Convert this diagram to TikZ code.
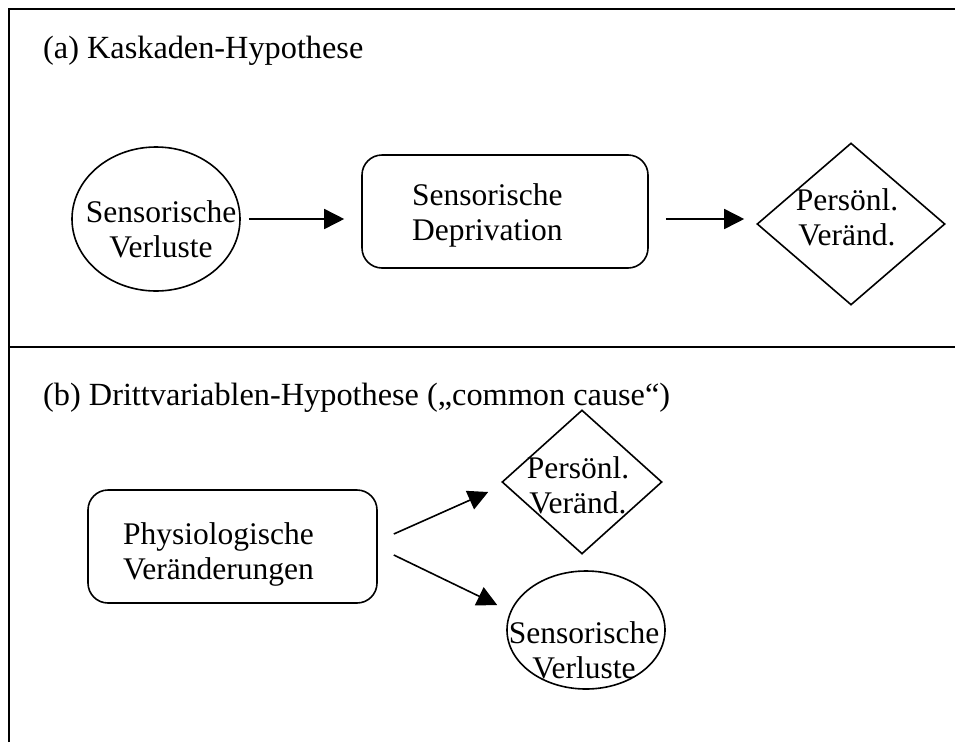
\documentclass[tikz,border=0pt]{standalone}
\usepackage{fontspec}
\setmainfont{Liberation Serif}
\usetikzlibrary{arrows.meta,shapes.geometric,positioning}

\tikzset{
  lbl/.style={font=\fontsize{31.5}{35}\selectfont, inner sep=0pt, align=center},
  titel/.style={font=\fontsize{32.3}{36}\selectfont, inner sep=0pt, anchor=base west},
  oval/.style={draw, ellipse, line width=1.6pt, inner sep=0pt},
  raute/.style={draw, diamond, line width=1.6pt, inner sep=0pt},
  rbox/.style={draw, rounded corners=20pt, line width=1.6pt, inner sep=0pt,
    minimum height=113pt},
  pfeil/.style={line width=1.6pt, -{Triangle[length=20pt,width=20pt]}}
}

\begin{document}
\begin{tikzpicture}[x=1pt, y=-1pt]
  \useasboundingbox (0,0) rectangle (955,742);
  % frame
  \draw[line width=2.5pt] (9,742) -- (9,9) -- (955,9);
  \draw[line width=1.8pt] (9,347) -- (955,347);

  % (a)
  \node[titel] (tita) at (43,58) {(a) Kaskaden-Hypothese};
  \begin{scope}
    \node[oval, minimum width=168pt, minimum height=144pt] (verl1) at (156,219) {};
    \node[rbox, minimum width=286pt] (depr) at (505,211.5) {};
    \node[raute, minimum width=188pt, minimum height=162pt] (pers1) at (851,224) {};
  \end{scope}
  \node[lbl] at (161,229) {Sensorische\\Verluste};
  \node[lbl, align=left, anchor=west] at (412,215) {Sensorische\\Deprivation};
  \node[lbl] at (847,217) {Persönl.\\Veränd.};
  \draw[pfeil] ([xshift=8pt]verl1.east) -- ([xshift=-17pt]verl1.east -| depr.west);
  \draw[pfeil] ([shift={(17,7.5)}]depr.east) -- ([shift={(-12,-5)}]pers1.west);

  % (b)
  \node[titel] (titb) at (43,405) {(b) Drittvariablen-Hypothese („common cause“)};
  \begin{scope}
    \node[rbox, minimum width=289pt] (phys) at (232.5,546.5) {};
    \node[raute, minimum width=160pt, minimum height=144pt] (pers2) at (582,482) {};
    \node[oval, minimum width=158pt, minimum height=118pt] (verl2) at (586,630) {};
  \end{scope}
  \node[lbl, align=left, anchor=west] at (123,554) {Physiologische\\Veränderungen};
  \node[lbl] at (578,485) {Persönl.\\Veränd.};
  \node[lbl] at (584,650) {Sensorische\\Verluste};
  \draw[pfeil] ([shift={(16,-12.5)}]phys.east) -- ([shift={(-13,10)}]pers2.west);
  \draw[pfeil] ([shift={(16,8.5)}]phys.east) -- ([shift={(-9,-25)}]verl2.west);
\end{tikzpicture}
\end{document}
